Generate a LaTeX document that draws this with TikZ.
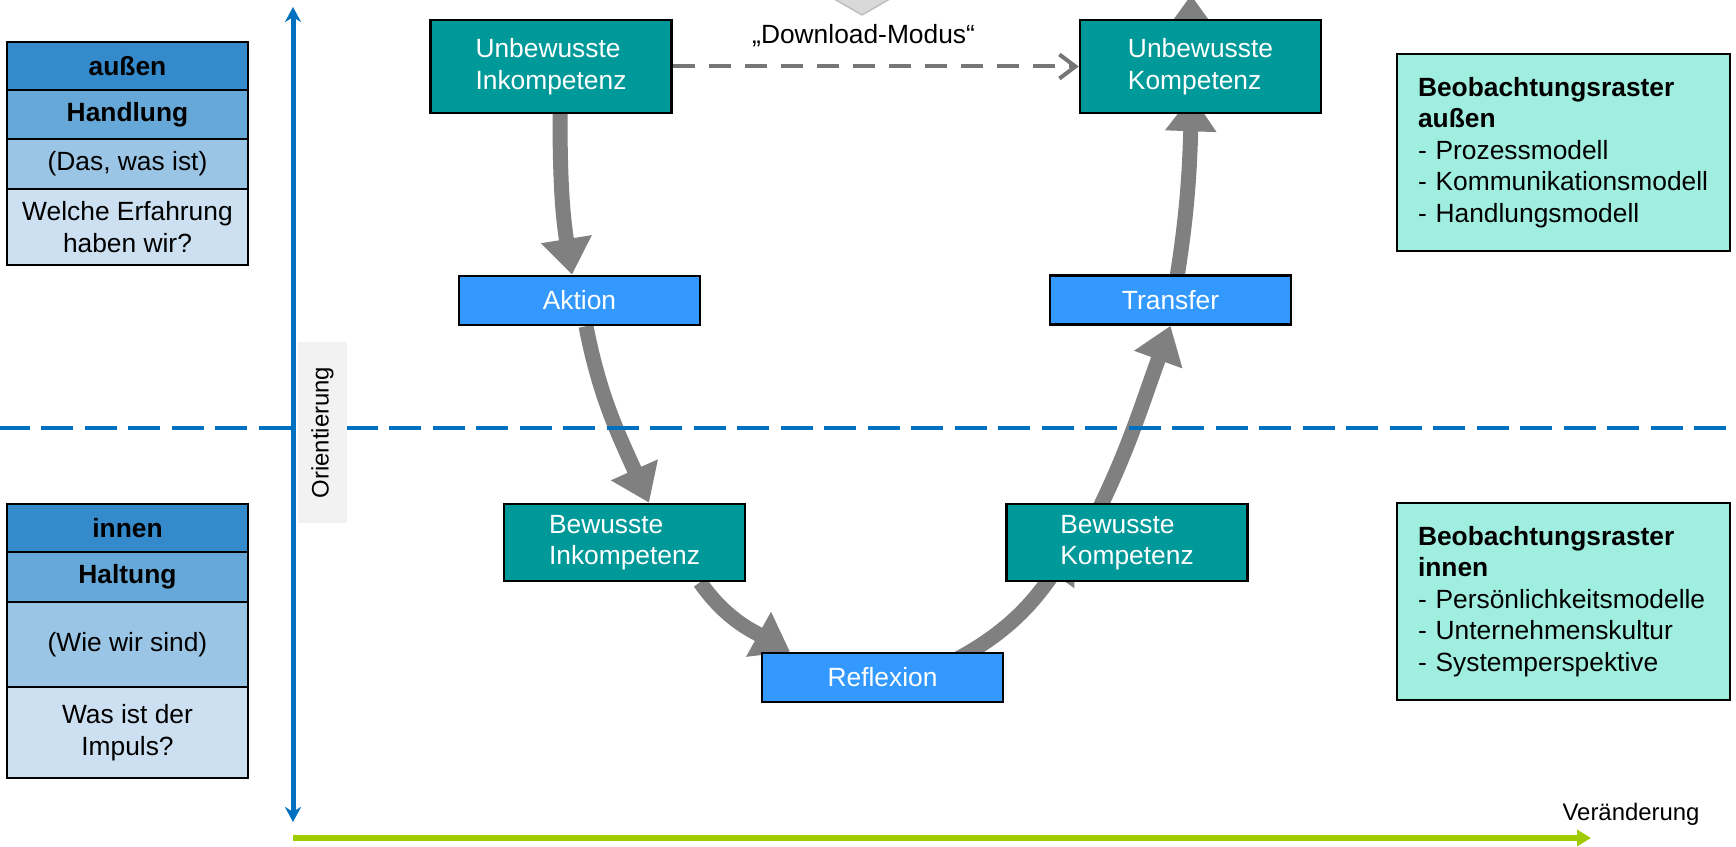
\documentclass[tikz,border=0pt]{standalone}
\usepackage{fontspec}
\setmainfont{Liberation Sans}
\usetikzlibrary{arrows.meta,positioning}

\definecolor{stufe}{HTML}{009999}
\definecolor{aktblau}{HTML}{3399FF}
\definecolor{rasterfarbe}{HTML}{A0EEE0}
\definecolor{achsblau}{HTML}{0070C0}
\definecolor{gruen}{HTML}{9FCC00}
\definecolor{grau}{HTML}{808080}
\definecolor{strichgrau}{HTML}{767676}
\definecolor{blau1}{HTML}{358ACC}
\definecolor{blau2}{HTML}{66A9D8}
\definecolor{blau3}{HTML}{9BC5E5}
\definecolor{blau4}{HTML}{CCE0F1}

\pgfdeclarelayer{back}
\pgfdeclarelayer{mid}
\pgfsetlayers{back,mid,main}

\begin{document}
\begin{tikzpicture}[>=Stealth, font=\fontsize{7.5}{9}\selectfont,
	box/.style={draw=black, line width=0.025cm, inner sep=0pt},
	state/.style={box, fill=stufe, text=white, minimum width=2.41cm, minimum height=0.93cm, align=left},
	act/.style={box, fill=aktblau, text=white, minimum width=2.41cm, minimum height=0.49cm},
	cell/.style={box, minimum width=2.41cm, align=center},
	raster/.style={box, fill=rasterfarbe, minimum width=3.33cm, minimum height=1.97cm, text width=2.91cm, align=left},
	flow/.style={draw=grau, line width=0.15cm},
	flowhead/.style={flow, -{Triangle[width=0.49cm,length=0.36cm]}},
	smalltext/.style={font=\fontsize{6.8}{8}\selectfont}]
	\useasboundingbox (0,0) rectangle (17.36,8.46);

	% the four stages and the three steps between them
	\node[state] (ui) at (5.51,7.795) {Unbewusste\\Inkompetenz};
	\node[state] (uk) at (12.005,7.795) {Unbewusste\\Kompetenz};
	\node[state, minimum height=0.77cm] (bi) at (6.245,3.035) {Bewusste\\Inkompetenz};
	\node[state, minimum height=0.77cm] (bk) at (11.27,3.035) {Bewusste\\Kompetenz};
	\node[act] (akt) at (5.795,5.455) {Aktion};
	\node[act] (trans) at (11.705,5.46) {Transfer};
	\node[act] (refl) at (8.825,1.685) {Reflexion};

	% draw the thick arrows below the boxes
	\begin{pgfonlayer}{back}
		\draw[flowhead] ([xshift=0.09cm]ui.south) to[out=-90,in=99] ([xshift=-0.075cm]akt.north);
		\draw[flowhead] ([xshift=0.065cm]akt.south) to[out=-79,in=114] ([xshift=0.245cm]bi.north);
		\draw[flowhead] ([xshift=0.755cm]bi.south) to[out=-55,in=151] ([xshift=-0.925cm]refl.north);
		\draw[flowhead] ([xshift=0.735cm,yshift=-0.08cm]refl.north) to[out=28,in=-125] ([xshift=-0.53cm,yshift=-0.015cm]bk.center);
		\draw[flowhead] ([xshift=-0.45cm]bk.center) to[out=62,in=-110] (trans.south);
		\draw[flowhead] ([xshift=0.065cm,yshift=-0.03cm]trans.north) to[out=81,in=-92] ([xshift=-0.085cm,yshift=0.19cm]uk.south);
		% the cycle goes on above the picture
		\coordinate (weiter) at (11.91,8.51);
		\draw[flowhead] ([xshift=-0.095cm]uk.center) -- (weiter);
	\end{pgfonlayer}

	% the border between outside and inside
	\begin{pgfonlayer}{mid}
		\coordinate (links) at (0,4.18);
		\coordinate (rechts) at (17.36,4.18);
		\draw[achsblau, line width=0.04cm, dash pattern=on 0.32cm off 0.115cm, dash phase=0.025cm] (links) -- (rechts);
	\end{pgfonlayer}

	% the short way across the top
	\draw[strichgrau, line width=0.04cm, dash pattern=on 0.22cm off 0.14cm, -{Straight Barb[length=0.16cm,width=0.24cm]}]
		(ui.east) -- node[pos=0.47, above=0.06cm, text=black] (dl) {„Download-Modus“} (uk.west);
	\filldraw[fill=black!15, draw=black!25, line width=0.015cm] (8.29,8.50) -- (8.95,8.50) -- (8.62,8.31) -- cycle;

	% the two columns on the left
	\foreach \name/\y/\h/\col/\txt in {
		aussen/7.80/0.48/blau1/\textbf{außen},
		handlung/7.315/0.49/blau2/\textbf{Handlung},
		dasist/6.82/0.50/blau3/{(Das, was ist)},
		erfahrung/6.19/0.76/blau4/{Welche Erfahrung\\haben wir?},
		innen/3.18/0.48/blau1/\textbf{innen},
		haltung/2.69/0.50/blau2/\textbf{Haltung},
		wiewir/2.015/0.85/blau3/{(Wie wir sind)},
		impuls/1.135/0.91/blau4/{Was ist der\\Impuls?}}
		\node[cell, fill=\col, minimum height=\h cm] (\name) at (1.275,\y) {\txt};

	% the two boxes on the right
	\node[raster] (rasterA) at (15.635,6.935) {\textbf{Beobachtungsraster}\\\textbf{außen}\\- Prozessmodell\\- Kommunikationsmodell\\- Handlungsmodell};
	\node[raster] (rasterI) at (15.635,2.445) {\textbf{Beobachtungsraster}\\\textbf{innen}\\- Persönlichkeitsmodelle\\- Unternehmenskultur\\- Systemperspektive};

	% draw the axes
	\coordinate (oben) at (2.93,8.39);
	\coordinate (unten) at (2.93,0.24);
	\draw[achsblau, line width=0.05cm, {Stealth[length=0.15cm,width=0.16cm]}-{Stealth[length=0.15cm,width=0.16cm]}] (unten) -- (oben);
	\node[smalltext, fill=black!5, rotate=90, minimum width=1.81cm, minimum height=0.49cm, inner sep=0pt] (orient) at (3.225,4.135) {Orientierung};

	\coordinate (start) at (2.93,0.08);
	\coordinate (ziel) at (15.91,0.08);
	\draw[gruen, line width=0.055cm, -{Triangle[width=0.16cm,length=0.14cm]}] (start) -- (ziel);
	\node[smalltext] (veraend) at (16.31,0.32) {Veränderung};
\end{tikzpicture}
\end{document}
